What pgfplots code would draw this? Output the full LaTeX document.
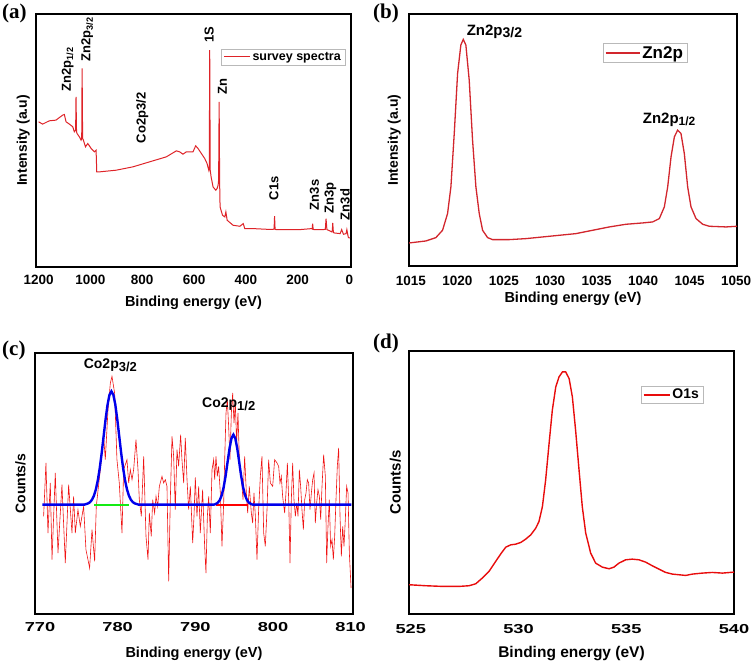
\documentclass[border=0pt]{standalone}
\usepackage{fontspec}
\setmainfont{Liberation Sans}
\newfontfamily\tnr{Liberation Serif}
\newfontfamily\wide{Liberation Sans}[FakeStretch=1.4]
\usepackage{pgfplots}
\pgfplotsset{compat=1.18}
\definecolor{redA}{RGB}{222,35,40}
\definecolor{redB}{RGB}{210,38,45}
\definecolor{redC}{RGB}{240,20,20}
\definecolor{redD}{RGB}{232,12,12}
\definecolor{blueC}{RGB}{0,0,235}
\definecolor{greenC}{RGB}{20,235,20}
\newcommand\fs[1]{\fontsize{#1}{#1}\selectfont\bfseries}

\pgfplotsset{
  common/.style={
    scale only axis,
    anchor=south west,
    axis line style={line width=1.1pt},
    ytick=\empty,
    major tick length=0pt,
    ticklabel style={font=\fs{13}},
    /pgf/number format/assume math mode=true,
    /pgf/number format/1000 sep={},
    xticklabel style={yshift=-4.5pt},
    clip mode=individual,
    legend cell align=left,
    legend style={draw=gray!55, line width=0.5pt, inner xsep=2pt, inner ysep=1pt, anchor=north east},
    legend image code/.code={\draw[##1] (0pt,0pt) -- (26pt,0pt);},
  },
}

\begin{document}
\begin{tikzpicture}
\useasboundingbox (0pt,0pt) rectangle (752pt,663pt);

% ---------------- (a) ----------------
\begin{axis}[common,
  at={(36pt,396pt)}, width=315pt, height=253pt,
  x dir=reverse, xmin=-6, xmax=1210, ymin=0, ymax=758,
  xtick={0,200,...,1200},
  ticklabel style={font=\fs{13.5}},
  xlabel={Binding energy (eV)}, ylabel={Intensity (a.u)},
  xlabel style={at={(axis description cs:0.5,0)}, anchor=base, yshift=-40pt, font=\fs{14.5}},
  ylabel style={at={(axis description cs:-0.029,0.5)}, anchor=base, font=\fs{14}},
  legend style={at={(0.981,0.862)}, font=\fs{12.5}},
]
\addplot[redA, line width=1pt] coordinates {
(1200,435) (1184.5,428) (1158.7,438) (1132.9,440) (1107,455) (1100.6,457) (1094,435)
(1081,428) (1068,420) (1062,405) (1057,410) (1055.5,510) (1053.5,405) (1051.6,400) (1042.6,390) (1036,380)
(1033.5,385) (1032,595) (1030,385) (1027,380) (1019,360) (1010,370) (997,355) (984.5,345) (978,350)
(975.5,285) (965,285) (900.6,290) (836,300) (771.6,315) (707,330) (681,342) (668,348) (655.5,345)
(642.6,338) (629.7,345) (604,345) (593.5,363) (584.5,355) (571.6,340) (558.7,325) (549.7,310) (543,290)
(541,300) (539.4,650) (537.5,290) (534,270) (526.5,240) (516,230) (511,235) (507,245) (505,260)
(503,495) (501,250) (499.4,180) (490,155) (481,150) (477,165) (472,140) (449,125) (423,122)
(410,130) (404,115) (371.6,115) (320,113) (294,113) (291,114) (289,152) (287,113) (284,112) (191,112) (146,115)
(144,114) (142,130) (140,113) (137,112) (101,112) (93,113) (90.3,145) (87,112) (81,110) (68,105) (66,110) (64.5,132)
(62,104) (59,102) (36,100) (30,112) (23,98) (13,100) (10,112) (6,95) (4,88) (-2,87)
};
\addlegendentry{survey spectra}
\node[rotate=90, anchor=west, font=\fs{13}] at (axis cs:1088,516) {Zn2p\textsubscript{1/2}};
\node[rotate=90, anchor=west, font=\fs{13}] at (axis cs:1012,605) {Zn2p\textsubscript{3/2}};
\node[rotate=90, anchor=west, font=\fs{13}] at (axis cs:800,360) {Co2p3/2};
\node[rotate=90, anchor=west, font=\fs{13}] at (axis cs:542,662) {1S};
\node[rotate=90, anchor=west, font=\fs{13}] at (axis cs:490,505) {Zn};
\node[rotate=90, anchor=west, font=\fs{13}] at (axis cs:292,190) {C1s};
\node[rotate=90, anchor=west, font=\fs{13}] at (axis cs:135,160) {Zn3s};
\node[rotate=90, anchor=west, font=\fs{13}] at (axis cs:73,150) {Zn3p};
\node[rotate=90, anchor=west, font=\fs{13}] at (axis cs:17,130) {Zn3d};
\end{axis}

% ---------------- (b) ----------------
\begin{axis}[common,
  at={(409pt,397pt)}, width=328pt, height=252pt,
  xmin=1014.8, xmax=1050.1, ymin=0, ymax=755,
  xtick={1015,1020,...,1050},
  ticklabel style={font=\fs{13.5}},
  xticklabel style={yshift=-2pt},
  xlabel={Binding energy (eV)}, ylabel={Intensity (a.u)},
  xlabel style={at={(axis description cs:0.5,0)}, anchor=base, yshift=-37pt, font=\fs{14.5}},
  ylabel style={at={(axis description cs:-0.034,0.5)}, anchor=base, font=\fs{14}},
  legend style={at={(0.848,0.885)}, font=\fs{17}},
  legend image code/.code={\draw[#1] (0pt,0pt) -- (34pt,0pt);},
]
\addplot[redB, line width=1.3pt] coordinates {
(1014.82,69) (1016.62,75) (1017.69,85) (1018.41,107) (1018.95,157) (1019.31,237) (1019.67,397)
(1020.03,577) (1020.38,662) (1020.64,679) (1020.92,662) (1021.28,557) (1021.64,377) (1022.00,237)
(1022.36,157) (1022.72,107) (1023.26,85) (1023.79,79) (1025.59,79) (1027.38,82) (1029.18,87)
(1030.97,92) (1032.77,97) (1034.56,107) (1036.36,117) (1038.15,125) (1039.95,129) (1041.02,132)
(1041.74,142) (1042.28,177) (1042.64,237) (1043.00,327) (1043.36,387) (1043.71,407) (1044.07,397)
(1044.43,337) (1044.79,237) (1045.15,177) (1045.69,142) (1046.41,125) (1047.12,119) (1048.92,117)
(1050.1,119)
};
\addlegendentry{Zn2p}
\node[anchor=base west, font=\fs{15}, inner sep=0pt] at (axis cs:1021.0,692) {Zn2p\raisebox{-0.3ex}{\fs{14}3/2}};
\node[anchor=base west, font=\fs{15}, inner sep=0pt] at (axis cs:1039.95,427) {Zn2p\raisebox{-0.3ex}{\fs{12}1/2}};
\end{axis}

% ---------------- (c) ----------------
\begin{axis}[common,
  at={(35pt,49pt)}, width=318pt, height=261pt,
  xmin=769.36, xmax=810.3, ymin=0, ymax=783,
  xtick={770,780,...,810},
  ticklabel style={font=\wide\fs{13}},
  xlabel={Binding energy (eV)}, ylabel={Counts/s},
  xlabel style={at={(axis description cs:0.5,0)}, anchor=base, yshift=-44pt, font=\fs{14.5}},
  ylabel style={at={(axis description cs:-0.03,0.5)}, anchor=base, font=\fs{14}},
]
\addplot[redC, line width=0.6pt] coordinates {
(770.47,293) (770.77,453) (771.03,243) (771.33,393) (771.55,163) (771.97,423) (772.32,183)
(772.83,388) (773.26,153) (773.69,388) (774.12,243) (774.33,353) (774.55,243) (774.89,313)
(775.19,263) (775.62,323) (775.92,193) (776.18,163) (776.39,138) (776.70,253) (777.04,158)
(777.25,323) (777.77,433) (778.20,533) (778.41,463) (778.76,613) (779.06,693) (779.27,713)
(779.61,663) (779.91,463) (780.21,393) (780.56,243) (780.77,433) (781.20,463) (781.42,393)
(781.63,433) (781.85,403) (782.06,433) (782.36,523) (782.62,433) (782.79,343) (783.05,293)
(783.35,473) (783.65,233) (783.91,163) (784.08,303) (784.33,233) (784.51,343) (784.76,303)
(784.94,353) (785.15,323) (785.37,383) (785.71,413) (785.92,393) (786.14,403) (786.35,383)
(786.57,98) (786.78,343) (787.00,533) (787.21,473) (787.42,313) (787.64,493) (787.85,443)
(788.11,538) (788.28,463) (788.50,393) (788.71,528) (788.93,403) (789.14,313) (789.36,383)
(789.66,213) (789.83,293) (790.00,410) (790.21,293) (790.43,383) (790.64,243) (790.94,373)
(791.20,203) (791.37,123) (791.55,293) (791.72,353) (791.93,243) (792.15,433) (792.36,463)
(792.49,403) (792.66,473) (792.83,413) (793.00,443) (793.22,363) (793.43,203) (793.65,333)
(793.78,463) (793.95,603) (794.12,643) (794.29,563) (794.46,463) (794.64,603) (794.81,663)
(794.98,573) (795.15,633) (795.32,513) (795.49,603) (795.71,433) (795.92,413) (796.14,343)
(796.35,473) (796.57,363) (796.74,303) (796.95,383) (797.21,303) (797.38,273) (797.55,363)
(797.73,293) (797.94,163) (798.15,313) (798.37,413) (798.58,473) (798.80,243) (799.01,203)
(799.23,313) (799.44,463) (799.66,393) (799.96,383) (800.21,463) (800.52,453) (800.73,443)
(800.90,393) (801.07,413) (801.24,353) (801.50,303) (801.67,363) (801.85,453) (802.02,343)
(802.19,153) (802.36,343) (802.53,453) (802.70,343) (802.88,293) (803.05,333) (803.22,293)
(803.39,433) (803.56,383) (803.73,313) (803.91,253) (804.08,343) (804.25,363) (804.42,403)
(804.59,393) (804.76,313) (804.94,363) (805.11,403) (805.28,423) (805.45,273) (805.62,333)
(805.79,373) (805.97,353) (806.14,283) (806.31,383) (806.52,478) (806.74,413) (806.91,153)
(807.08,263) (807.25,343) (807.42,203) (807.60,223) (807.77,163) (807.94,233) (808.11,343)
(808.28,443) (808.45,498) (808.63,293) (808.80,173) (808.97,263) (809.14,203) (809.31,283)
(809.48,383) (809.66,363) (809.83,183) (810.05,78)
};
\addplot[greenC, line width=2.2pt] coordinates {(777.0,328) (781.4,328)};
\addplot[red, line width=2.2pt] coordinates {(792.7,328) (796.8,328)};
\addplot[blueC, line width=2.4pt] coordinates {
(770.3,328) (775.7,328) (776.2,331.8) (776.45,335.7) (776.7,342.9) (776.95,355.1) (777.2,374)
(777.45,401.5) (777.7,438.4) (777.95,483.7) (778.2,534.2) (778.45,584.6) (778.7,628) (778.95,657.5)
(779.2,668) (779.45,657.5) (779.7,628) (779.95,584.6) (780.2,534.2) (780.45,483.7) (780.7,438.4)
(780.95,401.5) (781.2,374) (781.45,355.1) (781.7,342.9) (781.95,335.7) (782.2,331.8) (782.7,328)
(792.4,328) (792.65,330.3) (792.9,334) (793.15,341.8) (793.4,356.4) (793.65,380.4) (793.9,414.3)
(794.15,455.4) (794.4,496.2) (794.65,526.7) (794.9,538) (795.15,526.7) (795.4,496.2) (795.65,455.4)
(795.9,414.3) (796.15,380.4) (796.4,356.4) (796.65,341.8) (796.9,334) (797.15,330.3) (797.4,328)
(810.1,328)
};
\node[anchor=base west, font=\fs{14}, inner sep=0pt] at (axis cs:775.62,735) {Co2p\raisebox{-0.3ex}{\fs{13}3/2}};
\node[anchor=base west, font=\fs{14}, inner sep=0pt] at (axis cs:790.86,618) {Co2p\raisebox{-0.3ex}{\fs{13}1/2}};
\end{axis}

% ---------------- (d) ----------------
\begin{axis}[common,
  at={(409pt,49pt)}, width=325pt, height=263pt,
  xmin=524.92, xmax=540, ymin=0, ymax=791,
  xtick={525,530,535,540},
  ticklabel style={font=\wide\fs{13}},
  xticklabel style={yshift=-2pt},
  xlabel={Binding energy (eV)}, ylabel={Counts/s},
  xlabel style={at={(axis description cs:0.5,0)}, anchor=base, yshift=-44pt, font=\fs{15.5}},
  ylabel style={at={(axis description cs:-0.026,0.5)}, anchor=base, font=\fs{15}},
  legend style={at={(0.905,0.867)}, font=\fs{14}},
]
\addplot[redD, line width=1.4pt] coordinates {
(524.92,88) (525.70,85) (526.47,83) (527.24,83) (527.71,85) (528.02,91) (528.32,108) (528.63,128)
(528.94,158) (529.18,181) (529.41,201) (529.64,208) (529.87,210) (530.10,215) (530.33,225)
(530.57,238) (530.80,258) (530.95,278) (531.11,323) (531.26,403) (531.42,513) (531.57,613)
(531.73,683) (531.88,713) (532.04,728) (532.19,728) (532.35,708) (532.50,653) (532.65,553)
(532.81,433) (532.96,323) (533.12,243) (533.35,183) (533.58,153) (533.89,141) (534.20,136)
(534.43,141) (534.66,153) (534.97,163) (535.28,165) (535.59,163) (535.90,156) (536.21,145)
(536.52,135) (536.83,125) (537.14,120) (537.45,118) (537.76,116) (538.07,120) (538.53,123)
(538.99,125) (539.46,123) (540.00,126)
};
\addlegendentry{O1s}
\end{axis}

% panel letters
\node[anchor=base west, font=\tnr\fs{21}, inner sep=0pt] at (2pt,644pt) {(a)};
\node[anchor=base west, font=\tnr\fs{21}, inner sep=0pt] at (373pt,644pt) {(b)};
\node[anchor=base west, font=\tnr\fs{21}, inner sep=0pt] at (2pt,307pt) {(c)};
\node[anchor=base west, font=\tnr\fs{21}, inner sep=0pt] at (373pt,314pt) {(d)};
\end{tikzpicture}
\end{document}
